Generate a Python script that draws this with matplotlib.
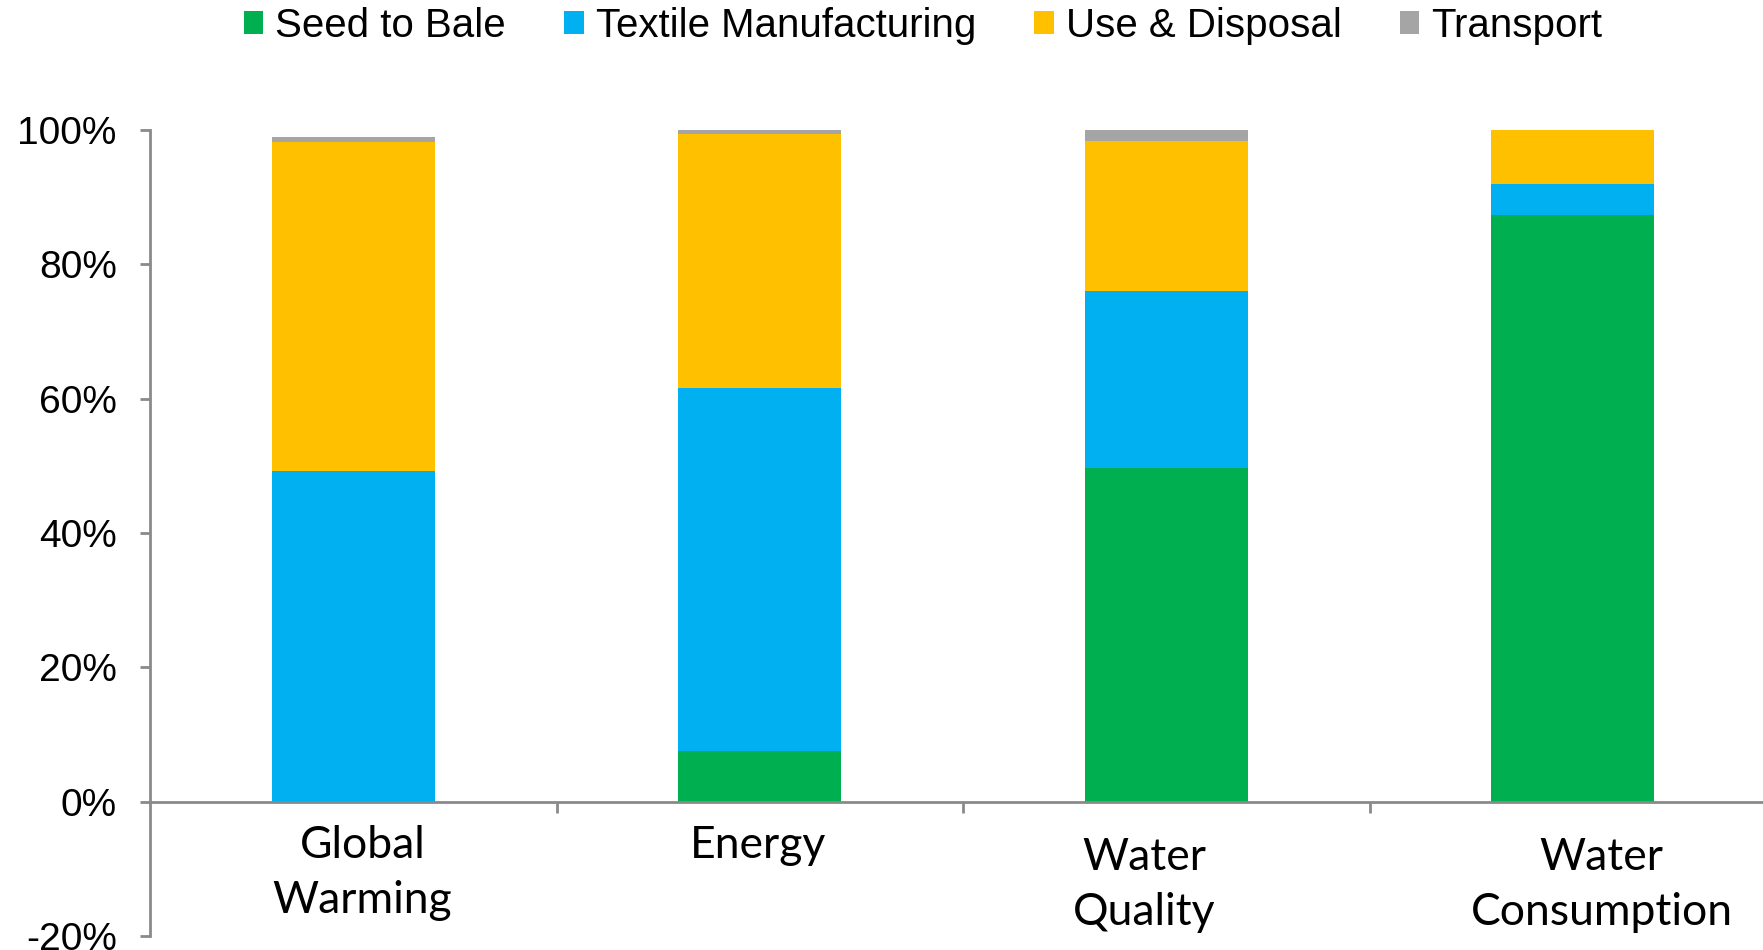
import matplotlib
matplotlib.use("Agg")
import matplotlib.pyplot as plt
from matplotlib.patches import Patch
from matplotlib.ticker import FuncFormatter
import numpy as np

# Share of each life-cycle stage per impact category (%)
categorias = ["Global\nWarming", "Energy", "Water\nQuality", "Water\nConsumption"]
seed_to_bale = [0.0, 7.5, 49.6, 87.3]
textile = [49.2, 54.1, 26.4, 4.7]
use_disposal = [49.0, 37.75, 22.3, 8.0]
transport = [0.7, 0.65, 1.7, 0.2]

etapas = ["Seed to Bale", "Textile Manufacturing", "Use & Disposal", "Transport"]
colores = ["#00B050", "#00B0F0", "#FFC000", "#A5A5A5"]

# small nudges for the category captions (pixels)
desplaz_x = [9, -2, -22, 29]
desplaz_y = [-24, -24, -36, -36]

gris_eje = "#8A8A8A"

fig = plt.figure(figsize=(17.63, 9.5), dpi=100)
ax = fig.add_axes([150 / 1763, (950 - 935.8) / 950, 1626 / 1763, (935.8 - 130) / 950])

x = np.arange(len(categorias))
series = [seed_to_bale, textile, use_disposal, transport]
base = np.zeros(len(categorias))
for valores, color in zip(series, colores):
    ax.bar(x, valores, width=0.4, bottom=base, color=color, edgecolor="none", zorder=2)
    base = base + np.array(valores)

ax.set_xlim(-0.5, 3.5)
ax.set_ylim(-20, 100)
ax.set_yticks(np.arange(-20, 101, 20))
ax.yaxis.set_major_formatter(FuncFormatter(lambda v, p: f"{v:.0f}%"))
ax.tick_params(axis="y", direction="out", length=7, width=2, color=gris_eje,
               labelsize=28, pad=17)
for lbl in ax.get_yticklabels():
    lbl.set_family("Liberation Sans")

# ticks between categories, hanging below the zero line
ax.set_xticks([0.5, 1.5, 2.5])
ax.set_xticklabels([])
ax.tick_params(axis="x", direction="out", length=8, width=2, color=gris_eje)

for lado in ["top", "right"]:
    ax.spines[lado].set_visible(False)
ax.spines["left"].set_color(gris_eje)
ax.spines["left"].set_linewidth(2)
ax.spines["bottom"].set_position(("data", 0))
ax.spines["bottom"].set_color(gris_eje)
ax.spines["bottom"].set_linewidth(2)

for i, nombre in enumerate(categorias):
    ax.annotate(nombre, xy=(x[i], 0), xytext=(desplaz_x[i], desplaz_y[i]),
                textcoords="offset pixels", ha="center", va="top",
                fontsize=32, family="Lato", linespacing=1.42)

manijas = [Patch(facecolor=c, edgecolor="none") for c in colores]
fig.legend(manijas, etapas, loc="center", bbox_to_anchor=(0.5236, 1 - 26 / 950),
           ncol=4, frameon=False, prop={"family": "Liberation Sans", "size": 29},
           handlelength=0.48, handleheight=0.48, handletextpad=0.3,
           columnspacing=1.45, borderpad=0, borderaxespad=0)

fig.savefig("out.png", dpi=100)
